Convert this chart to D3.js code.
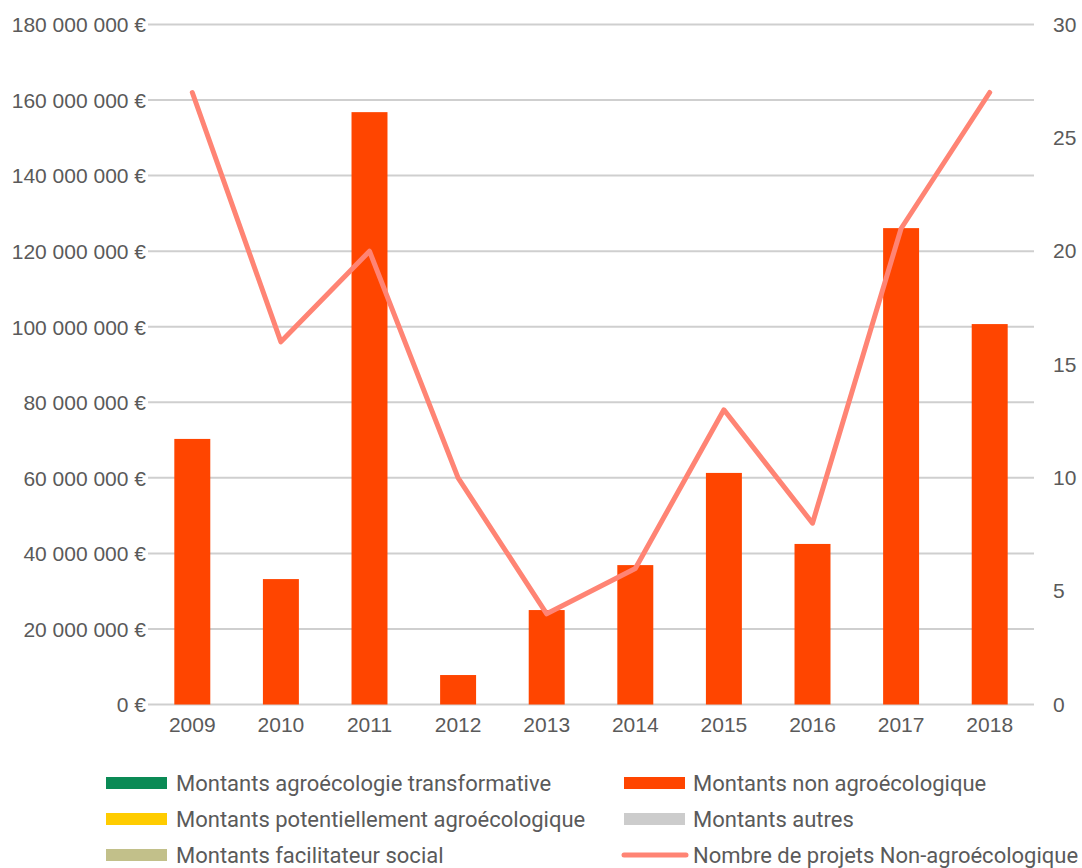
<!DOCTYPE html>
<html>
<head>
<meta charset="utf-8">
<script src="https://cdn.jsdelivr.net/npm/d3@7/dist/d3.min.js"></script>
<style>
  html, body { margin: 0; padding: 0; background: #fff; }
  svg { display: block; font-family: Roboto, "Noto Sans", sans-serif; }
  .tick text { fill: #5a5a5a; font-size: 21px; }
  .legend text { fill: #5a5a5a; font-size: 22px; }
</style>
</head>
<body>
<svg id="chart" width="1082" height="868"></svg>
<script>
// Annual funding amounts (EUR) and project counts
const years = ["2009", "2010", "2011", "2012", "2013", "2014", "2015", "2016", "2017", "2018"];
const montantsNonAgro = [70300000, 33200000, 156800000, 7800000, 25000000, 36900000, 61300000, 42500000, 126100000, 100700000];
const nbProjetsNonAgro = [27, 16, 20, 10, 4, 6, 13, 8, 21, 27];
const leftTicks = [0, 20000000, 40000000, 60000000, 80000000, 100000000, 120000000, 140000000, 160000000, 180000000];
const rightTicks = [0, 5, 10, 15, 20, 25, 30];

const legendItems = [
  { label: "Montants agroécologie transformative", color: "#0a8a55", type: "rect" },
  { label: "Montants potentiellement agroécologique", color: "#ffcc00", type: "rect" },
  { label: "Montants facilitateur social", color: "#c2c08a", type: "rect" },
  { label: "Montants non agroécologique", color: "#ff4500", type: "rect" },
  { label: "Montants autres", color: "#cccccc", type: "rect" },
  { label: "Nombre de projets Non-agroécologique", color: "#ff8474", type: "line" }
];

const svg = d3.select("#chart");
const plot = { left: 148, right: 1034, top: 24.5, bottom: 704.5 };

const x = d3.scaleBand().domain(years).range([plot.left, plot.right])
  .paddingInner(0.594).paddingOuter(0.297);
const y = d3.scaleLinear().domain([0, 180000000]).range([plot.bottom, plot.top]);
const y2 = d3.scaleLinear().domain([0, 30]).range([plot.bottom, plot.top]);

const fmtEuro = v => d3.format(",")(v).replace(/,/g, " ") + " €";

// Gridlines
svg.append("g").selectAll("line").data(leftTicks).join("line")
  .attr("x1", plot.left).attr("x2", plot.right)
  .attr("y1", d => y(d)).attr("y2", d => y(d))
  .attr("stroke", "#cfcfcf").attr("stroke-width", 2);

// Left axis
const gl = svg.append("g").attr("transform", `translate(${plot.left},0)`)
  .call(d3.axisLeft(y).tickValues(leftTicks).tickFormat(fmtEuro).tickSize(0).tickPadding(2));
gl.select(".domain").remove();
gl.selectAll(".tick text").attr("dy", "0.35em");

// Right axis
const gr = svg.append("g").attr("transform", `translate(${plot.right},0)`)
  .call(d3.axisRight(y2).tickValues(rightTicks).tickSize(0).tickPadding(19));
gr.select(".domain").remove();

// Bottom axis
const gb = svg.append("g").attr("transform", `translate(0,${plot.bottom})`)
  .call(d3.axisBottom(x).tickSize(0).tickPadding(13));
gb.select(".domain").remove();

// Bars
svg.append("g").selectAll("rect").data(years).join("rect")
  .attr("x", d => x(d))
  .attr("width", x.bandwidth())
  .attr("y", (d, i) => y(montantsNonAgro[i]))
  .attr("height", (d, i) => y(0) - y(montantsNonAgro[i]))
  .attr("fill", "#ff4500");

// Project count line
const line = d3.line()
  .x((d, i) => x(years[i]) + x.bandwidth() / 2)
  .y(d => y2(d));
svg.append("path").datum(nbProjetsNonAgro)
  .attr("d", line)
  .attr("fill", "none")
  .attr("stroke", "#ff8474")
  .attr("stroke-width", 5)
  .attr("stroke-linejoin", "round")
  .attr("stroke-linecap", "round");

// Legend
const legend = svg.append("g").attr("class", "legend");
const cols = [{ sx: 106, tx: 176 }, { sx: 624, tx: 693 }];
const rowY = [783, 819, 855];
legendItems.forEach((item, i) => {
  const col = cols[Math.floor(i / 3)];
  const yy = rowY[i % 3];
  if (item.type === "rect") {
    legend.append("rect").attr("x", col.sx).attr("y", yy - 6)
      .attr("width", 61).attr("height", 12).attr("fill", item.color);
  } else {
    legend.append("line").attr("x1", col.sx).attr("x2", col.sx + 62)
      .attr("y1", yy).attr("y2", yy)
      .attr("stroke", item.color).attr("stroke-width", 5).attr("stroke-linecap", "round");
  }
  legend.append("text").attr("x", col.tx).attr("y", yy).attr("dy", "0.35em").text(item.label);
});
</script>
</body>
</html>
